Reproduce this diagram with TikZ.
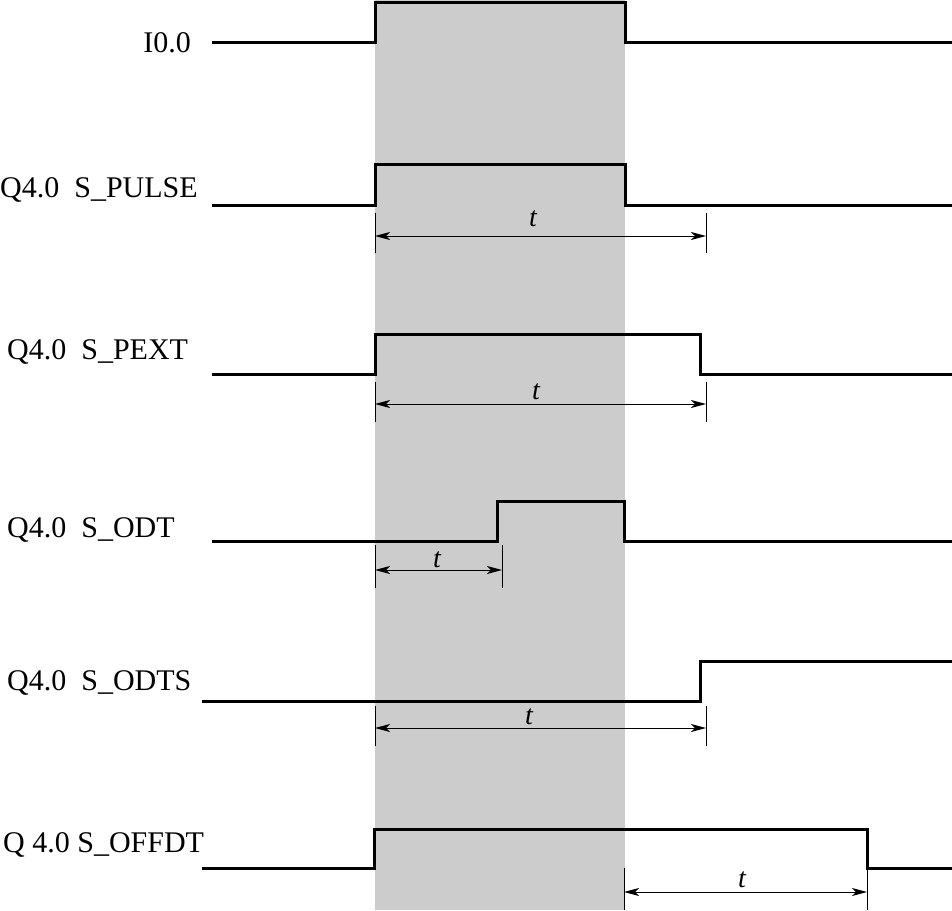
\documentclass[tikz,border=0pt]{standalone}
\usepackage{fontspec}
\setmainfont{Liberation Serif}
\usetikzlibrary{arrows.meta}
\begin{document}
\begin{tikzpicture}[x=1pt,y=-1pt,line cap=butt,line join=miter,>={Stealth[length=15pt,width=8pt,inset=4pt]},font=\fontsize{30}{31}\selectfont]
		\tikzset{sig/.style={line width=3pt},
			dim/.style={<->,line width=1pt},
			tick/.style={line width=0.8pt},
			lab/.style={anchor=base west,inner sep=0pt},
			tlab/.style={anchor=base,inner sep=0pt,font=\fontsize{28}{28}\selectfont\itshape}}
		\useasboundingbox (0,0) rectangle (952,910);
		\fill[gray!40] (375,0) rectangle (625,910);
		%--------- Tín hiệu
		\node[lab,anchor=base east] (lI) at (191,52) {I0.0};
		\draw[sig] (212,42) -- (375,42) -- (375,2) -- (625,2) -- (625,42) -- (952,42);
		\node[lab] (lPulse) at (0,197) {Q4.0\ \ S\_PULSE};
		\draw[sig] (212,205) -- (375,205) -- (375,164) -- (625,164) -- (625,205) -- (952,205);
		\node[lab] (lPext) at (7,359) {Q4.0\ \ S\_PEXT};
		\draw[sig] (212,374) -- (375,374) -- (375,334) -- (700,334) -- (700,374) -- (952,374);
		\node[lab] (lOdt) at (7,537) {Q4.0\ \ S\_ODT};
		\draw[sig] (212,541) -- (497,541) -- (497,501) -- (624,501) -- (624,541) -- (952,541);
		\node[lab] (lOdts) at (7,690) {Q4.0\ \ S\_ODTS};
		\draw[sig] (202,701) -- (700,701) -- (700,661) -- (952,661);
		\node[lab] (lOffdt) at (3,852) {Q 4.0 S\_OFFDT};
		\draw[sig] (202,868) -- (374,868) -- (374,829) -- (867,829) -- (867,868) -- (952,868);
		%--------- Thời gian t
		\coordinate (a1) at (375,236); \coordinate (b1) at (706,236);
		\draw[tick] (375,213) -- (375,253) (706,213) -- (706,253);
		\draw[dim] (a1) -- (b1);
		\node[tlab] (t1) at (533,226) {t};
		\coordinate (a2) at (375,404); \coordinate (b2) at (706,404);
		\draw[tick] (375,382) -- (375,422) (706,382) -- (706,422);
		\draw[dim] (a2) -- (b2);
		\node[tlab] (t2) at (536,399) {t};
		\coordinate (a3) at (375,570); \coordinate (b3) at (502,570);
		\draw[tick] (375,545) -- (375,588) (502,545) -- (502,588);
		\draw[dim] (a3) -- (b3);
		\node[tlab] (t3) at (437,567) {t};
		\coordinate (a4) at (375,728); \coordinate (b4) at (706,728);
		\draw[tick] (375,706) -- (375,746) (706,706) -- (706,746);
		\draw[dim] (a4) -- (b4);
		\node[tlab] (t4) at (529,724) {t};
		\coordinate (a5) at (624,892); \coordinate (b5) at (867,892);
		\draw[tick] (624,868) -- (624,910) (867,868) -- (867,910);
		\draw[dim] (a5) -- (b5);
		\node[tlab] (t5) at (742,887) {t};
	\end{tikzpicture}
\end{document}
